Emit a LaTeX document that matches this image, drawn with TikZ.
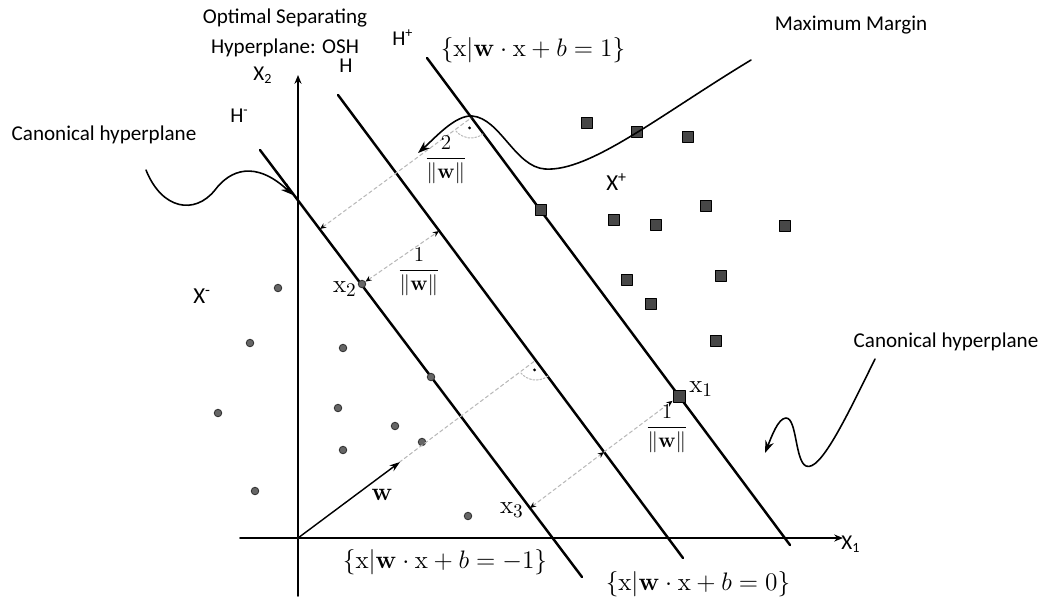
\documentclass[tikz,border=0pt]{standalone}
\usepackage[no-math]{fontspec}
\setmainfont{Carlito}
\usetikzlibrary{arrows.meta}

\begin{document}
\begin{tikzpicture}[x=0.2mm, y=-0.2mm, line cap=round, line join=round,
    >={Stealth[length=7pt,width=5pt]},
    ma/.tip={Stealth[length=3.5pt,width=3pt,color=black]},
    hplane/.style={line width=1.4pt},
    axis/.style={line width=0.9pt},
    marg/.style={gray!55, line width=0.6pt, dash pattern=on 2pt off 1.6pt},
    callout/.style={line width=0.9pt, ->},
    negpt/.style={circle, draw=black!80, fill=black!60, line width=0.5pt, inner sep=0pt, minimum size=1.5mm},
    pospt/.style={rectangle, draw=black, fill=black!72, line width=0.5pt, inner sep=0pt, minimum size=2.1mm},
    lbl/.style={font=\fontsize{12}{17}\selectfont},
    xlbl/.style={font=\fontsize{13}{15}\selectfont},
    mlbl/.style={font=\fontsize{15}{17}\selectfont},
    setlbl/.style={font=\fontsize{14}{16}\selectfont},
    fraclbl/.style={font=\fontsize{12.5}{14}\selectfont, inner sep=0pt}]
	% Window bounds (pixels of the scan, y downwards)
	\def\xmin{0} \def\xmax{1041}
	\def\ymin{0} \def\ymax{598}
	\useasboundingbox (\xmin,\ymin) rectangle (\xmax,\ymax);
	
	% Axes
	\coordinate (O) at (298,538);
	\draw[axis, -{Stealth[length=5pt,width=4pt]}] (240,538) -- (843,538);
	\draw[axis, -{Stealth[length=5pt,width=4pt]}] (298,596) -- (298,75);
	
	% Hyperplanes H-, H, H+
	\draw[hplane] (260,150) -- (582,577);
	\draw[hplane] (338,95) -- (683,558);
	\draw[hplane] (427,58) -- (790,545);
	
	% Data points: circles for X-, squares for X+
	\foreach \p [count=\i] in {(278,288),(250,343),(218,413),(255,491),(343,348),(338,408),
	    (343,450),(395,426),(422,442),(431,377),(468,516)}
	  \node[negpt] (neg\i) at \p {};
	\node[negpt] (x2) at (362,284) {};
	\coordinate (x3) at (530,508);
	\foreach \p [count=\i] in {(587,123),(637,132),(688,137),(541,210),(614,220),(656,225),
	    (706,206),(785,226),(627,280),(651,304),(721,276),(716,341)}
	  \node[pospt] (pos\i) at \p {};
	\node[pospt, minimum size=2.4mm] (x1) at (679,396) {};
	
	% Margin distances (dashed)
	\coordinate (A1) at (320,229); \coordinate (A2) at (471,118);
	\coordinate (B2) at (439,231);
	\coordinate (C2) at (536,360);
	\coordinate (D2) at (604,452);
	\draw[marg, ma-] (A1) -- (A2);
	\draw[marg, ma-ma] (x2) -- (B2);
	\draw[marg] (O) -- (C2);
	\draw[marg, ma-ma] (x3) -- (D2);
	\draw[marg, -ma] (D2) -- (x1);
	
	% Right angle marks
	\draw[marg, dash pattern=on 1pt off 1pt] ([shift={(53.3:20)}]A2) arc[start angle=53.3, end angle=143.7, radius=20];
	\fill ([shift={(98.5:10)}]A2) circle (0.9pt);
	\draw[marg, dash pattern=on 1pt off 1pt] ([shift={(53.3:20)}]C2) arc[start angle=53.3, end angle=143.2, radius=20];
	\fill ([shift={(98.3:10)}]C2) circle (0.9pt);
	
	% Normal vector w
	\coordinate (wtip) at (400,462);
	\draw[line width=0.8pt, -{Stealth[length=6pt,width=4pt]}] (O) -- (wtip);
	
	% Callout arrows
	\draw[callout] (751,60) .. controls (660,115) and (590,172) .. (545,169)
	  .. controls (515,167) and (500,118) .. (472,116) .. controls (455,115) and (435,138) .. (418,153);
	\draw[callout] (146,170) .. controls (162,210) and (195,215) .. (215,190)
	  .. controls (230,170) and (255,160) .. (293,195);
	\draw[callout] (875,359) .. controls (845,420) and (820,472) .. (806,466)
	  .. controls (795,461) and (797,418) .. (786,418) .. controls (778,418) and (771,438) .. (765,453);
	
	% Text labels
	\node[lbl, align=center] (osh) at (285,33) {Optimal Separating\\Hyperplane: OSH};
	\node[lbl] (canl) at (104,135) {Canonical hyperplane};
	\node[lbl] (canr) at (946,342) {Canonical hyperplane};
	\node[lbl] (maxm) at (851,25) {Maximum Margin};
	\node[lbl, anchor=base west, inner sep=0pt] (hplus) at (392,45) {H\textsuperscript{+}};
	\node[lbl, anchor=base west, inner sep=0pt] (hzero) at (339,72) {H};
	\node[lbl, anchor=base west, inner sep=0pt] (hminus) at (230,122) {H\textsuperscript{-}};
	\node[xlbl, anchor=base west, inner sep=0pt] (xminus) at (193,303) {X\textsuperscript{-}};
	\node[xlbl, anchor=base west, inner sep=0pt] (xplus) at (606,190) {X\textsuperscript{+}};
	\node[lbl, anchor=base west, inner sep=0pt] (axtwo) at (253,80) {X\textsubscript{2}};
	\node[lbl, anchor=base west, inner sep=0pt] (axone) at (841,549) {X\textsubscript{1}};
	
	% Math labels
	\node[setlbl] (setp) at (533,50) {$\{\mathrm{x}|\mathbf{w}\cdot\mathrm{x}+b=1\}$};
	\node[setlbl] (setm) at (445,562) {$\{\mathrm{x}|\mathbf{w}\cdot\mathrm{x}+b=-1\}$};
	\node[setlbl] (setz) at (698,584) {$\{\mathrm{x}|\mathbf{w}\cdot\mathrm{x}+b=0\}$};
	\node[fraclbl] (fraca) at (446,160) {$\displaystyle\frac{2}{\|\mathbf{w}\|}$};
	\node[fraclbl] (fracb) at (419,272) {$\displaystyle\frac{1}{\|\mathbf{w}\|}$};
	\node[fraclbl] (fracd) at (667,429) {$\displaystyle\frac{1}{\|\mathbf{w}\|}$};
	\node[mlbl, anchor=east, inner sep=0pt] (lxtwo) at (357,289) {$\mathrm{x}_2$};
	\node[mlbl, anchor=west, inner sep=0pt] (lxone) at (689,389) {$\mathrm{x}_1$};
	\node[mlbl, anchor=east, inner sep=0pt] (lxthree) at (524,510) {$\mathrm{x}_3$};
	\node[mlbl] (lw) at (382,495) {$\mathbf{w}$};
\end{tikzpicture}
\end{document}
